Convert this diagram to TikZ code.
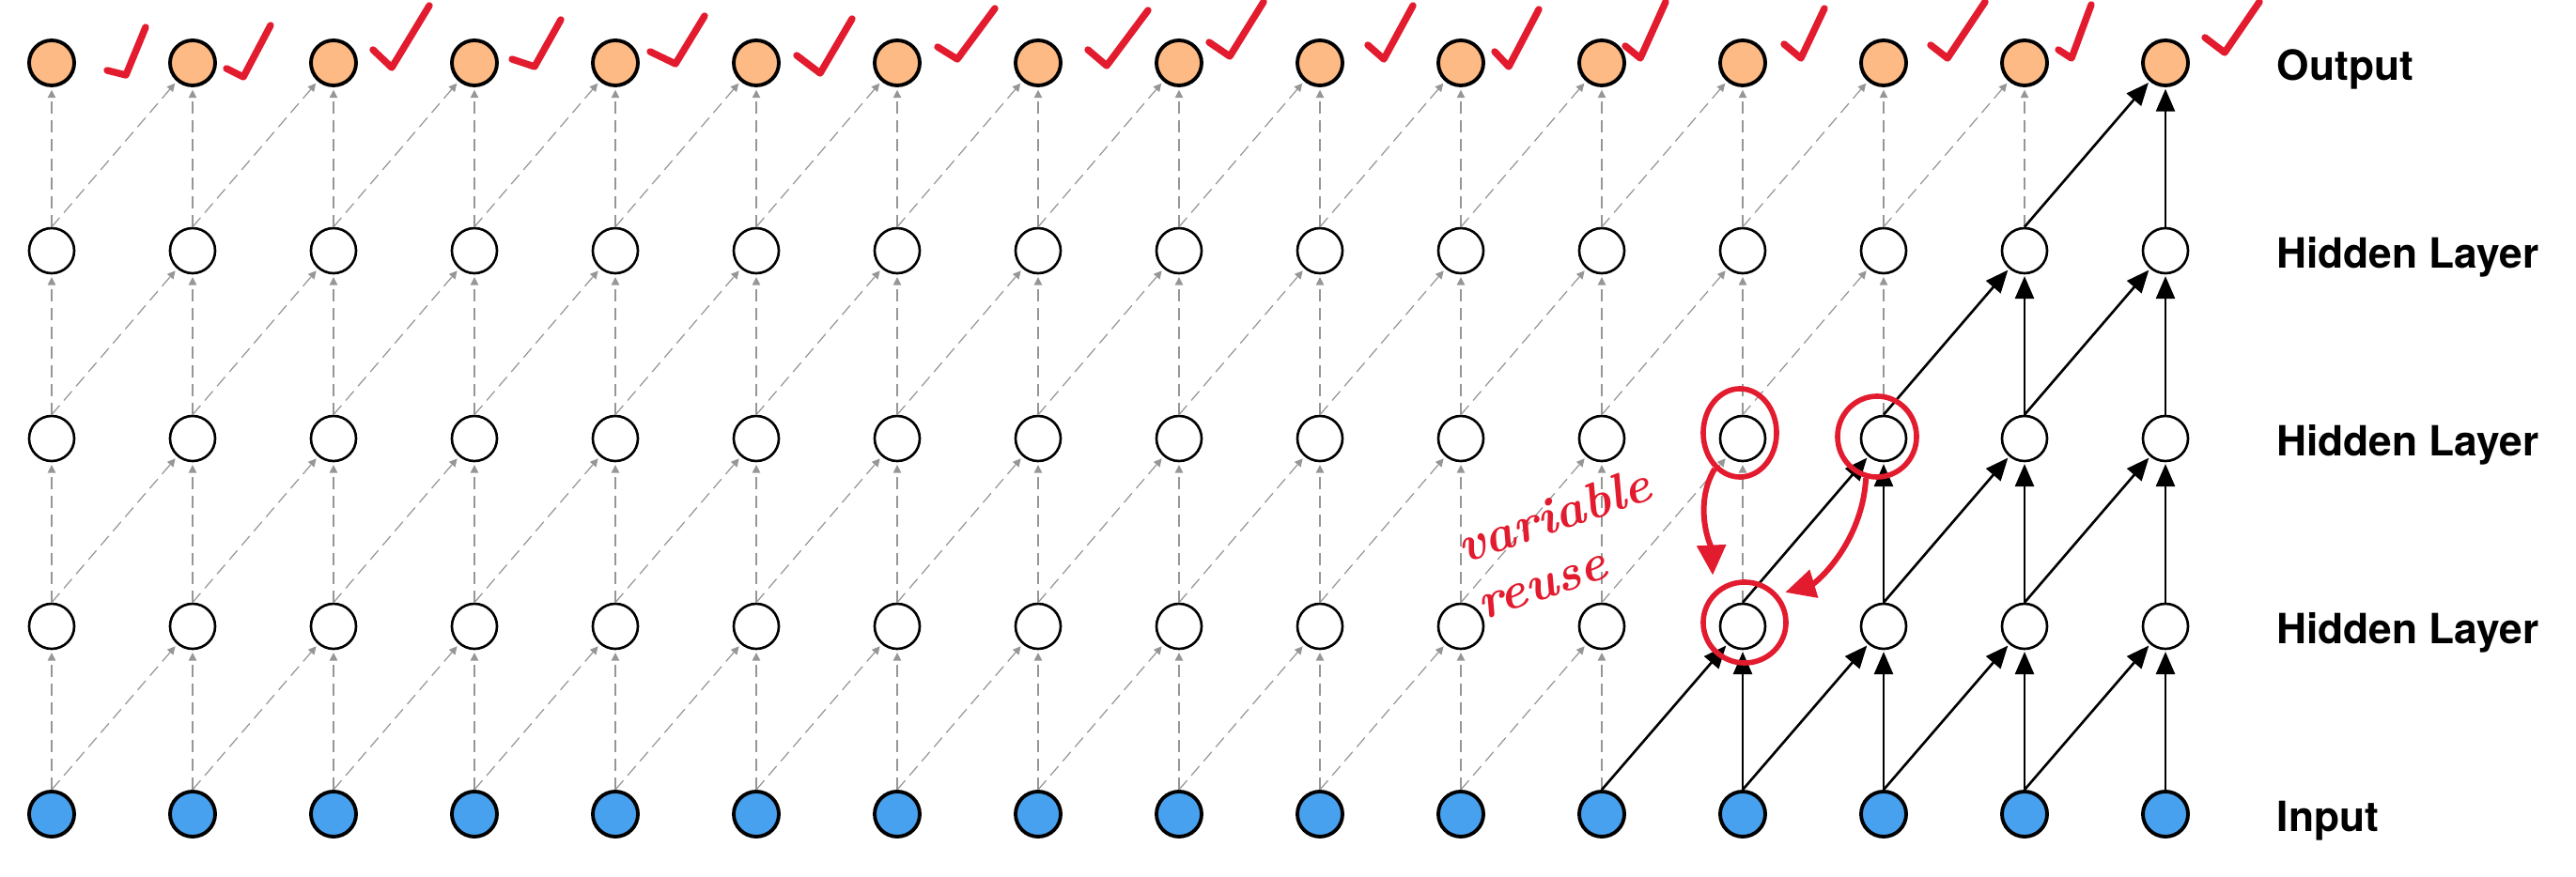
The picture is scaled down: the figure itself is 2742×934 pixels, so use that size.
\documentclass[tikz,border=0pt]{standalone}
\usepackage{fontspec}
\setsansfont{TeX Gyre Heros}
\usetikzlibrary{arrows.meta,positioning,calc,shapes.geometric}
\definecolor{outfill}{RGB}{253,186,132}
\definecolor{infill}{RGB}{72,161,238}
\definecolor{inkred}{RGB}{226,27,46}
\definecolor{ghostgray}{RGB}{150,150,150}

\begin{document}
\begin{tikzpicture}[
    x=0.01cm, y=-0.01cm,
    unit/.style={
        draw,
        circle,
        minimum size=0.48cm,
        inner sep=0pt
    },
    inp/.style={unit, fill=infill, line width=1.1pt},
    hid/.style={unit, fill=white, line width=0.75pt},
    outp/.style={unit, fill=outfill, line width=1.1pt},
    ghost/.style={-{Triangle[length=2.4pt,width=2.4pt]}, ghostgray, line width=0.35pt, dash pattern=on 3.7pt off 2pt, shorten >=0.8pt},
    arrow/.style={-{Triangle[length=2.4mm,width=2mm]}, line width=0.75pt, shorten >=0.5pt},
    lbl/.style={font=\sffamily\bfseries\fontsize{12.6}{15}\selectfont, inner sep=0pt, yshift=-2pt},
    checkmark/.style={inkred, line width=2.1pt, line cap=round, line join=round},
    ring/.style={draw=inkred, ellipse, line width=1.6pt, inner sep=0pt},
    reusearrow/.style={inkred, line width=1.7pt, -{Triangle[length=3.2mm,width=3mm]}},
    note/.style={inkred, font=\bfseries\itshape\fontsize{15.5}{18}\selectfont, rotate=19, inner sep=0pt, align=left}
]
\useasboundingbox (0,0) rectangle (2742,934);

\foreach \c in {0,...,15} {
    \node[inp] (n0-\c) at ({55+150*\c},867) {};
    \node[hid] (n1-\c) at ({55+150*\c},667) {};
    \node[hid] (n2-\c) at ({55+150*\c},467) {};
    \node[hid] (n3-\c) at ({55+150*\c},267) {};
    \node[outp] (n4-\c) at ({55+150*\c},67) {};
}

\foreach \r [evaluate=\r as \s using int(\r+1)] in {0,...,3} {
    \foreach \c [evaluate=\c as \d using int(\c+1)] in {0,...,15} {
        \ifnum\c<\numexpr12+\r\relax
            \draw[ghost] (n\r-\c.north) -- (n\s-\c);
        \else
            \draw[arrow] (n\r-\c.north) -- (n\s-\c);
        \fi
        \ifnum\c<15
            \ifnum\c<\numexpr11+\r\relax
                \draw[ghost] (n\r-\c.north) -- (n\s-\d);
            \else
                \draw[arrow] (n\r-\c.north) -- (n\s-\d);
            \fi
        \fi
    }
}

\node[lbl, right=0.92cm of n4-15] (lblOut) {Output};
\node[lbl, right=0.92cm of n3-15] (lblH3) {Hidden Layer};
\node[lbl, right=0.92cm of n2-15] (lblH2) {Hidden Layer};
\node[lbl, right=0.92cm of n1-15] (lblH1) {Hidden Layer};
\node[lbl, right=0.92cm of n0-15] (lblIn) {Input};

\foreach \ax/\ay/\bx/\by/\tx/\ty in {
    114/75/134/80/155/29, 241/73/259/82/288/27, 397/53/417/72/457/6,
    545/63/569/71/597/21, 692/55/719/68/750/17, 848/59/873/78/907/20,
    998/50/1019/63/1059/9, 1158/53/1178/70/1222/11, 1287/45/1309/60/1345/2,
    1456/48/1473/63/1504/6, 1591/55/1606/71/1638/10, 1730/49/1746/62/1773/2,
    1899/47/1917/62/1942/9, 2055/48/2073/62/2113/2, 2191/53/2205/62/2226/5,
    2347/40/2368/56/2405/2} {
    \draw[checkmark] (\ax,\ay) -- (\bx,\by) -- (\tx,\ty);
}

\node[ring, minimum width=0.78cm, minimum height=0.94cm] (ringA) at ([shift={(-3,-6)}]n2-12) {};
\node[ring, minimum width=0.84cm, minimum height=0.86cm] (ringB) at ([shift={(-7,-2)}]n2-13) {};
\node[ring, minimum width=0.88cm, minimum height=0.86cm] (ringC) at ([shift={(2,-4)}]n1-12) {};

\draw[reusearrow, shorten >=0.18cm] (ringA.235) .. controls +(-24,40) and +(-2,-45) .. (ringC.north west);
\draw[reusearrow, shorten >=0.08cm] (ringB.255) .. controls +(-4,70) and +(40,-12) .. (ringC.40);

\node[note] (txtReuse) at (1664,578) {variable\\reuse};
\end{tikzpicture}
\end{document}
